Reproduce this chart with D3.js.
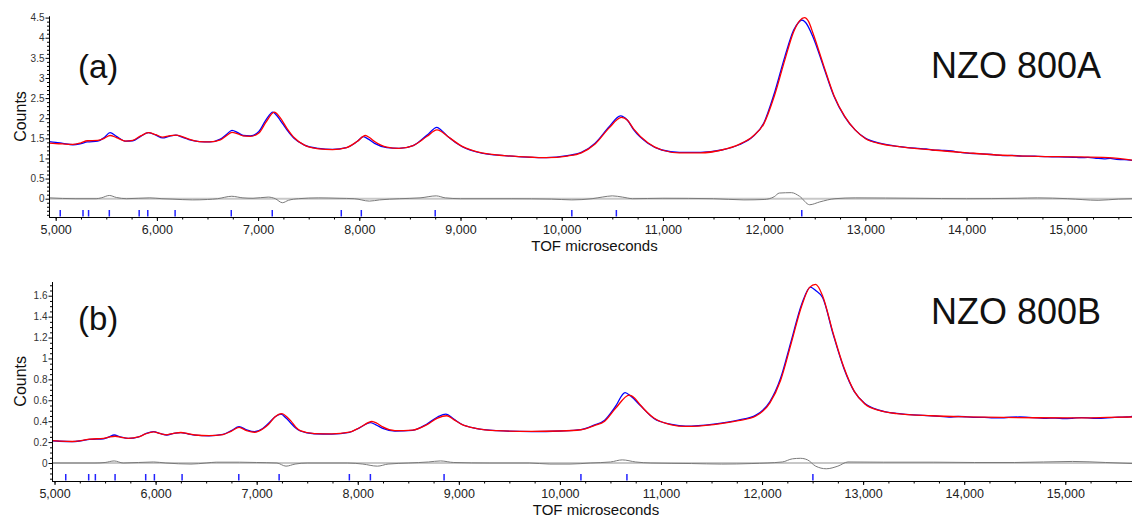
<!DOCTYPE html>
<html><head><meta charset="utf-8">
<script src="https://cdn.jsdelivr.net/npm/d3@7"></script>
<style>
body{margin:0;background:#fff}
svg{display:block;font-family:Helvetica,Arial,"Liberation Sans",sans-serif}
</style></head>
<body><svg id="c" width="1132" height="518"></svg>
<script>
// ---------- DATA ----------
const panelLabels = ["(a)", "(b)"];
const sampleNames = ["NZO 800A", "NZO 800B"];
const xAxisTitle = "TOF microseconds";
const yAxisTitle = "Counts";

const xMajorTicks = [5000,6000,7000,8000,9000,10000,11000,12000,13000,14000,15000];
const xMinorTicks = d3.range(4750, 15751, 250);

const yTicksA = [0,0.5,1,1.5,2,2.5,3,3.5,4,4.5];
const yTickLabelsA = ["0","0.5","1","1.5","2","2.5","3","3.5","4","4.5"];
const yMinorA = [-0.4,-0.3,-0.2,-0.1,0.1,0.2,0.3,0.4,0.6,0.7,0.8,0.9,1.1,1.2,1.3,1.4,1.6,1.7,1.8,1.9,2.1,2.2,2.3,2.4,2.6,2.7,2.8,2.9,3.1,3.2,3.3,3.4,3.6,3.7,3.8,3.9,4.1,4.2,4.3,4.4];
const yTicksB = [0,0.2,0.4,0.6,0.8,1,1.2,1.4,1.6];
const yTickLabelsB = ["0","0.2","0.4","0.6","0.8","1","1.2","1.4","1.6"];
const yMinorB = [-0.15,-0.1,-0.05,0.05,0.1,0.15,0.25,0.3,0.35,0.45,0.5,0.55,0.65,0.7,0.75,0.85,0.9,0.95,1.05,1.1,1.15,1.25,1.3,1.35,1.45,1.5,1.55,1.65,1.7];

// Panel (a): observed (blue), calculated (red), difference (grey)
const obsA = [[4934,1.42],[5000,1.40],[5070,1.375],[5170,1.34],[5250,1.37],[5312,1.41],[5415,1.43],[5480,1.52],[5537,1.64],[5600,1.55],[5693,1.43],[5762,1.44],[5840,1.55],[5917,1.64],[5990,1.58],[6056,1.51],[6120,1.55],[6188,1.58],[6250,1.53],[6316,1.47],[6420,1.42],[6524,1.41],[6627,1.48],[6690,1.60],[6742,1.70],[6800,1.64],[6852,1.57],[6922,1.56],[7008,1.67],[7078,1.96],[7147,2.15],[7180,2.08],[7216,1.96],[7285,1.71],[7355,1.50],[7458,1.33],[7597,1.25],[7735,1.225],[7874,1.27],[7978,1.42],[8040,1.54],[8090,1.48],[8151,1.375],[8272,1.27],[8393,1.25],[8532,1.32],[8670,1.58],[8767,1.77],[8810,1.70],[8878,1.54],[9017,1.29],[9224,1.125],[9432,1.07],[9709,1.025],[9848,1.02],[10055,1.07],[10194,1.15],[10330,1.38],[10469,1.79],[10580,2.06],[10650,1.95],[10712,1.71],[10851,1.38],[10990,1.21],[11163,1.15],[11372,1.15],[11580,1.21],[11753,1.34],[11892,1.55],[11997,1.88],[12101,2.62],[12205,3.53],[12292,4.19],[12340,4.38],[12372,4.44],[12410,4.38],[12483,4.02],[12587,3.28],[12691,2.54],[12795,2.04],[12899,1.71],[13003,1.50],[13142,1.38],[13316,1.30],[13420,1.27],[13520,1.25],[13600,1.235],[13663,1.21],[13760,1.20],[13850,1.185],[13940,1.15],[14010,1.13],[14100,1.12],[14200,1.105],[14280,1.09],[14358,1.07],[14450,1.075],[14550,1.06],[14630,1.06],[14705,1.05],[14800,1.045],[14900,1.04],[14980,1.035],[15052,1.03],[15130,1.02],[15200,1.025],[15280,1.005],[15360,0.99],[15420,1.0],[15480,0.975],[15560,0.97],[15635,0.95]];
const calcA = [[4934,1.38],[5000,1.37],[5070,1.36],[5170,1.35],[5250,1.39],[5312,1.44],[5415,1.45],[5480,1.50],[5537,1.57],[5600,1.52],[5693,1.43],[5762,1.45],[5840,1.56],[5917,1.64],[5990,1.59],[6056,1.53],[6120,1.56],[6188,1.58],[6250,1.54],[6316,1.48],[6420,1.42],[6524,1.41],[6627,1.46],[6690,1.57],[6742,1.65],[6800,1.61],[6852,1.56],[6922,1.55],[7008,1.63],[7078,1.90],[7160,2.15],[7216,2.02],[7285,1.75],[7355,1.52],[7458,1.33],[7597,1.24],[7735,1.22],[7874,1.27],[7978,1.42],[8060,1.57],[8100,1.52],[8151,1.42],[8272,1.28],[8393,1.25],[8532,1.32],[8670,1.55],[8767,1.71],[8810,1.67],[8878,1.54],[9017,1.30],[9224,1.13],[9432,1.07],[9709,1.03],[9848,1.02],[10055,1.06],[10194,1.14],[10330,1.36],[10469,1.76],[10590,2.02],[10650,1.95],[10712,1.73],[10851,1.39],[10990,1.21],[11163,1.14],[11372,1.14],[11580,1.21],[11753,1.35],[11892,1.56],[11997,1.86],[12101,2.55],[12205,3.45],[12292,4.15],[12350,4.42],[12399,4.50],[12440,4.40],[12483,4.11],[12587,3.32],[12691,2.56],[12795,2.05],[12899,1.71],[13003,1.49],[13142,1.37],[13316,1.30],[13663,1.21],[14010,1.14],[14358,1.08],[14705,1.05],[15052,1.04],[15399,1.02],[15635,0.96]];
const diffA = [[4934,0.02],[5200,0.0],[5400,0.0],[5450,0.02],[5530,0.08],[5600,0.03],[5700,0.0],[5930,0.02],[6050,0.0],[6150,-0.01],[6350,-0.03],[6500,-0.02],[6600,0.0],[6740,0.06],[6850,0.02],[6950,0.01],[7100,0.04],[7170,0.0],[7240,-0.10],[7300,-0.04],[7400,0.0],[7600,0.02],[7800,0.01],[7950,0.0],[8100,-0.06],[8200,-0.03],[8400,0.0],[8600,0.02],[8760,0.07],[8850,0.02],[9000,0.0],[9500,0.0],[9900,-0.01],[10100,-0.03],[10300,0.0],[10400,0.04],[10500,0.07],[10600,0.04],[10700,0.0],[11000,0.01],[11500,0.0],[11800,-0.03],[12000,-0.02],[12100,0.05],[12150,0.14],[12270,0.15],[12350,0.06],[12450,-0.15],[12550,-0.08],[12700,0.0],[12900,0.02],[13500,0.01],[14000,0.0],[14500,0.01],[14700,0.02],[15000,0.0],[15300,-0.04],[15500,-0.01],[15635,0.0]];
const reflA = [5045,5270,5325,5530,5825,5910,6180,6735,7140,7822,8020,8750,10100,10540,12372];

// Panel (b)
const obsB = [[4975,0.213],[5050,0.208],[5174,0.204],[5260,0.212],[5347,0.226],[5486,0.232],[5540,0.25],[5590,0.268],[5650,0.25],[5729,0.235],[5833,0.25],[5900,0.28],[5979,0.30],[6050,0.28],[6111,0.268],[6180,0.283],[6250,0.29],[6320,0.278],[6389,0.266],[6528,0.26],[6667,0.274],[6750,0.31],[6826,0.348],[6900,0.318],[6979,0.30],[7060,0.33],[7118,0.38],[7180,0.44],[7240,0.468],[7290,0.43],[7326,0.395],[7380,0.34],[7431,0.306],[7569,0.28],[7743,0.277],[7917,0.294],[8021,0.339],[8125,0.387],[8180,0.365],[8247,0.332],[8368,0.306],[8542,0.313],[8681,0.371],[8790,0.44],[8872,0.468],[8950,0.42],[9028,0.371],[9167,0.332],[9375,0.31],[9722,0.30],[10000,0.306],[10208,0.319],[10339,0.362],[10443,0.41],[10548,0.538],[10645,0.673],[10700,0.64],[10791,0.554],[10930,0.426],[11104,0.369],[11243,0.352],[11522,0.372],[11765,0.41],[11939,0.458],[12078,0.587],[12183,0.81],[12287,1.163],[12391,1.516],[12478,1.683],[12530,1.65],[12600,1.58],[12704,1.228],[12809,0.907],[12913,0.683],[13017,0.57],[13157,0.506],[13330,0.474],[13420,0.466],[13500,0.46],[13590,0.455],[13678,0.452],[13760,0.447],[13850,0.44],[13940,0.445],[14026,0.442],[14110,0.437],[14200,0.436],[14290,0.431],[14374,0.433],[14460,0.438],[14550,0.44],[14640,0.436],[14722,0.433],[14810,0.427],[14900,0.43],[14990,0.425],[15070,0.428],[15160,0.434],[15250,0.43],[15330,0.426],[15417,0.433],[15490,0.437],[15550,0.438],[15610,0.44],[15660,0.446]];
const calcB = [[4975,0.215],[5050,0.21],[5174,0.206],[5260,0.214],[5347,0.228],[5486,0.236],[5540,0.248],[5600,0.256],[5660,0.246],[5729,0.236],[5833,0.25],[5900,0.278],[5979,0.298],[6050,0.28],[6111,0.27],[6180,0.284],[6250,0.292],[6320,0.28],[6389,0.268],[6528,0.262],[6667,0.272],[6750,0.305],[6826,0.34],[6900,0.31],[6979,0.294],[7060,0.325],[7118,0.37],[7180,0.44],[7250,0.472],[7300,0.44],[7340,0.40],[7390,0.34],[7431,0.31],[7569,0.282],[7743,0.278],[7917,0.295],[8021,0.34],[8140,0.397],[8190,0.38],[8247,0.345],[8368,0.31],[8542,0.315],[8681,0.365],[8790,0.43],[8880,0.452],[8950,0.415],[9028,0.37],[9167,0.332],[9375,0.31],[9722,0.302],[10000,0.306],[10208,0.318],[10339,0.358],[10443,0.40],[10548,0.52],[10687,0.65],[10740,0.62],[10791,0.56],[10930,0.43],[11104,0.365],[11243,0.35],[11522,0.368],[11765,0.405],[11939,0.45],[12078,0.575],[12183,0.79],[12287,1.14],[12391,1.50],[12470,1.68],[12530,1.708],[12600,1.596],[12704,1.24],[12809,0.915],[12913,0.685],[13017,0.565],[13157,0.503],[13330,0.473],[13678,0.452],[14026,0.442],[14374,0.436],[14722,0.433],[15070,0.432],[15417,0.436],[15660,0.44]];
const diffB = [[4975,0],[5400,0.0],[5500,0.005],[5590,0.02],[5680,0.0],[5980,0.01],[6100,0.0],[6350,-0.01],[6500,0.0],[6600,0.008],[6830,0.008],[7000,0.005],[7200,0.0],[7290,-0.03],[7380,-0.01],[7500,0.0],[7900,0.0],[8050,-0.01],[8194,-0.03],[8300,-0.01],[8500,0.0],[8700,0.01],[8819,0.02],[8950,0.005],[9300,0.0],[9700,0.0],[9900,-0.01],[10100,-0.01],[10300,0.0],[10500,0.01],[10617,0.03],[10750,0.01],[10900,0.0],[11300,-0.005],[11600,-0.01],[11900,-0.005],[12200,0.01],[12300,0.04],[12380,0.045],[12450,0.03],[12530,-0.03],[12635,-0.055],[12750,-0.03],[12850,0.01],[13200,0.008],[13700,0.008],[14100,0.005],[14500,0.005],[15070,0.015],[15400,0.005],[15660,-0.005]];
const reflB = [5111,5338,5404,5599,5902,5988,6262,6823,7222,7917,8125,8854,10208,10663,12503];

// ---------- LAYOUT ----------
const panels = [
  {id:"A", xd:[4934,15635], xr:[49,1132], yd:[-0.455,4.54], yr:[217,16],
   obs:obsA, calc:calcA, diff:diffA, refl:reflA, yTicks:yTicksA, yLabels:yTickLabelsA, yMinor:yMinorA,
   label:panelLabels[0], name:sampleNames[0], labelY:78, nameY:78, titleY:251, xPad:4.5},
  {id:"B", xd:[4975,15660], xr:[52,1132], yd:[-0.172,1.735], yr:[481,281.6],
   obs:obsB, calc:calcB, diff:diffB, refl:reflB, yTicks:yTicksB, yLabels:yTickLabelsB, yMinor:yMinorB,
   label:panelLabels[1], name:sampleNames[1], labelY:330, nameY:324, titleY:515, xPad:4}
];

const svg = d3.select("#c");

panels.forEach(p => {
  const x = d3.scaleLinear().domain(p.xd).range(p.xr);
  const y = d3.scaleLinear().domain(p.yd).range(p.yr);
  const g = svg.append("g");
  const cid = "clip" + p.id;
  svg.append("clipPath").attr("id", cid).append("rect")
    .attr("x", p.xr[0]).attr("y", p.yr[1])
    .attr("width", p.xr[1]-p.xr[0]).attr("height", p.yr[0]-p.yr[1]);
  const pg = g.append("g").attr("clip-path", `url(#${cid})`);

  const line = d3.line().x(d => x(d[0])).y(d => y(d[1])).curve(d3.curveMonotoneX);

  pg.append("line")
    .attr("x1", p.xr[0]).attr("x2", p.xr[1]).attr("y1", y(0)).attr("y2", y(0))
    .attr("stroke", "#c8c8c8").attr("stroke-width", 2);
  pg.append("path").datum(p.diff).attr("d", line)
    .attr("fill", "none").attr("stroke", "#7a7a7a").attr("stroke-width", 1);
  pg.append("path").datum(p.obs).attr("d", line)
    .attr("fill", "none").attr("stroke", "#0000ff").attr("stroke-width", 1.3);
  pg.append("path").datum(p.calc).attr("d", line)
    .attr("fill", "none").attr("stroke", "#ff0000").attr("stroke-width", 1.3);

  pg.selectAll("line.refl").data(p.refl).join("line").attr("class", "refl")
    .attr("x1", d => x(d)).attr("x2", d => x(d))
    .attr("y1", p.yr[0] - 7).attr("y2", p.yr[0] - 0.5)
    .attr("stroke", "#2222ff").attr("stroke-width", 1.5);

  // x axis
  const xMinorAxis = d3.axisBottom(x).tickValues(xMinorTicks.filter(v => v >= p.xd[0] && v <= p.xd[1]))
    .tickSize(2.5).tickSizeOuter(0).tickFormat("");
  g.append("g").attr("transform", `translate(0,${p.yr[0]})`).call(xMinorAxis);
  const xAxis = d3.axisBottom(x).tickValues(xMajorTicks).tickSize(4).tickSizeOuter(0)
    .tickPadding(p.xPad).tickFormat(d3.format(","));
  const xg = g.append("g").attr("transform", `translate(0,${p.yr[0]})`).call(xAxis);
  xg.selectAll("text").attr("font-size", 12.5).attr("fill", "#222")
    .attr("font-family", "Helvetica,Arial,'Liberation Sans',sans-serif");

  // y axis
  const yMinorAxis = d3.axisLeft(y).tickValues(p.yMinor).tickSize(2).tickSizeOuter(0).tickFormat("");
  g.append("g").attr("transform", `translate(${p.xr[0]},0)`).call(yMinorAxis);
  const yAxis = d3.axisLeft(y).tickValues(p.yTicks).tickSize(3.5).tickSizeOuter(0).tickPadding(1)
    .tickFormat((d, i) => p.yLabels[i]);
  const yg = g.append("g").attr("transform", `translate(${p.xr[0]},0)`).call(yAxis);
  yg.selectAll("text").attr("font-size", 10).attr("fill", "#333")
    .attr("font-family", "Helvetica,Arial,'Liberation Sans',sans-serif");

  // titles
  g.append("text").text(yAxisTitle)
    .attr("transform", `translate(26,${(p.yr[0]+p.yr[1])/2}) rotate(-90)`)
    .attr("text-anchor", "middle").attr("font-size", 16).attr("fill", "#111");
  g.append("text").text(xAxisTitle)
    .attr("x", (p.xr[0] + p.xr[1]) / 2 + 4).attr("y", p.titleY)
    .attr("text-anchor", "middle").attr("font-size", 15).attr("fill", "#111");
  g.append("text").text(p.label)
    .attr("x", 78).attr("y", p.labelY).attr("font-size", 33).attr("fill", "#111");
  g.append("text").text(p.name)
    .attr("x", 1101).attr("y", p.nameY).attr("text-anchor", "end")
    .attr("font-size", 36).attr("fill", "#111");
});
</script>
</body></html>
